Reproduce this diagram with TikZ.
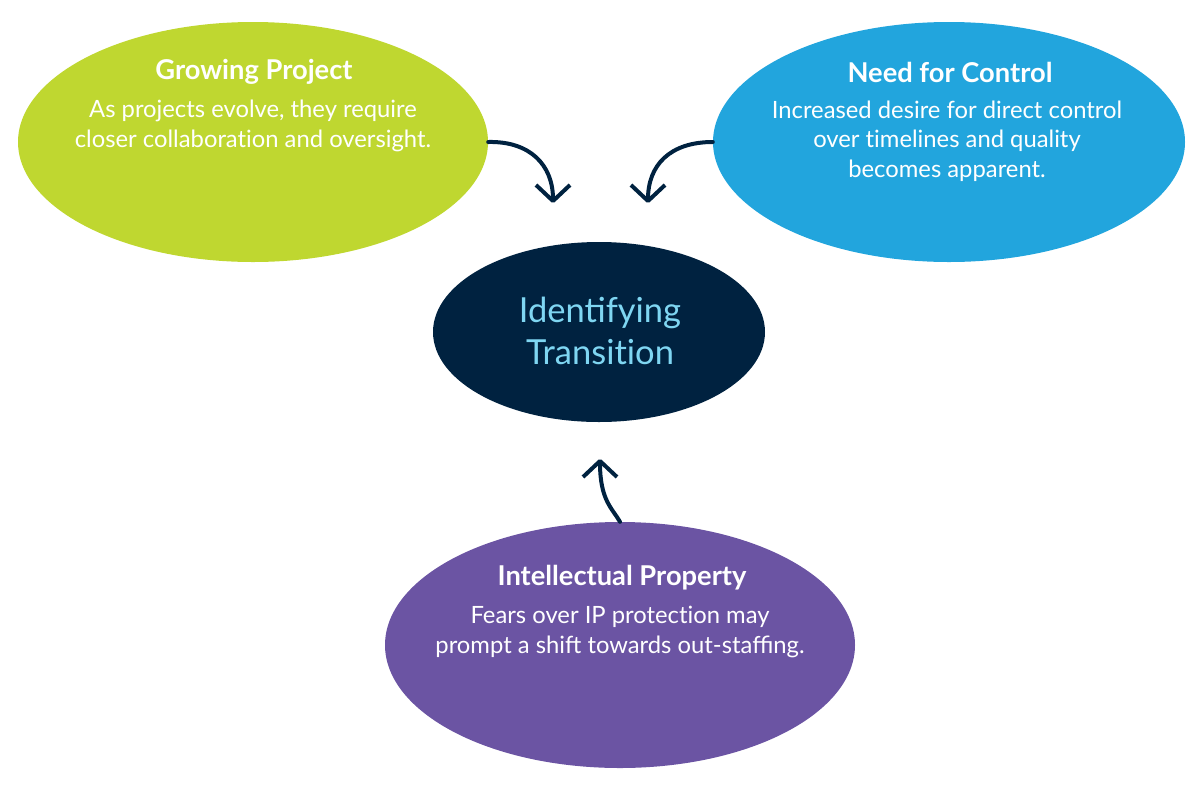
\documentclass[tikz,border=0pt]{standalone}
\usepackage{fontspec}
\setmainfont{Lato}
\usetikzlibrary{arrows.meta,shapes.geometric}
\definecolor{cgreen}{HTML}{BFD730}
\definecolor{cblue}{HTML}{22A5DD}
\definecolor{cnavy}{HTML}{002240}
\definecolor{cpurple}{HTML}{6B54A3}
\definecolor{clight}{HTML}{7FD6F2}
\newcommand\tiNL{t\kern0pt i}
\begin{document}
\begin{tikzpicture}[x=1pt,y=-1pt,
  blob/.style={ellipse,draw=none,inner sep=0pt},
  ttl/.style={font=\fontsize{27.3}{31}\selectfont\bfseries,text=white},
  body/.style={font=\fontsize{23.8}{29.5}\selectfont,text=white,align=center},
  conn/.style={draw=cnavy,line width=4pt,line cap=round,-{Straight Barb[length=16pt,width=34pt,line join=round]}}
]
\useasboundingbox (0,0) rectangle (1200,785);
\node[blob,fill=cgreen,minimum width=470pt,minimum height=240pt] (g) at (253,142) {};
\node[blob,fill=cblue,minimum width=472pt,minimum height=240pt] (b) at (949,142) {};
\node[blob,fill=cnavy,minimum width=332pt,minimum height=180pt] (c) at (599,332) {};
\node[blob,fill=cpurple,minimum width=470pt,minimum height=246pt] (p) at (620,645) {};

\node[ttl] (gt) at (254,72) {Growing Project};
\node[body] (gb) at (253,126) {As projects evolve, they require\\closer collabora\tiNL on and oversight.};
\node[ttl] (bt) at (950,72) {Need for Control};
\node[body] (bb) at (947,141) {Increased desire for direct control\\over \tiNL melines and quality\\becomes apparent.};
\node[font=\fontsize{34.5}{42}\selectfont,text=clight,align=center] (ct) at (600,331) {Identifying\\Transi\tiNL on};
\node[ttl] (pt) at (622,578) {Intellectual Property};
\node[body] (pb) at (620,632) {Fears over IP protec\tiNL on may\\prompt a shift towards out-staffing.};

\coordinate (ge) at (553,203);
\coordinate (be) at (648,203);
\coordinate (pe) at (600,459);
\draw[conn] (g.east) .. controls (530,141) and (553,165) .. (ge);
\draw[conn] (b.west) .. controls (670,142) and (648,165) .. (be);
\draw[conn] (p.north) .. controls (612,508) and (600,500) .. (pe);
\end{tikzpicture}
\end{document}
